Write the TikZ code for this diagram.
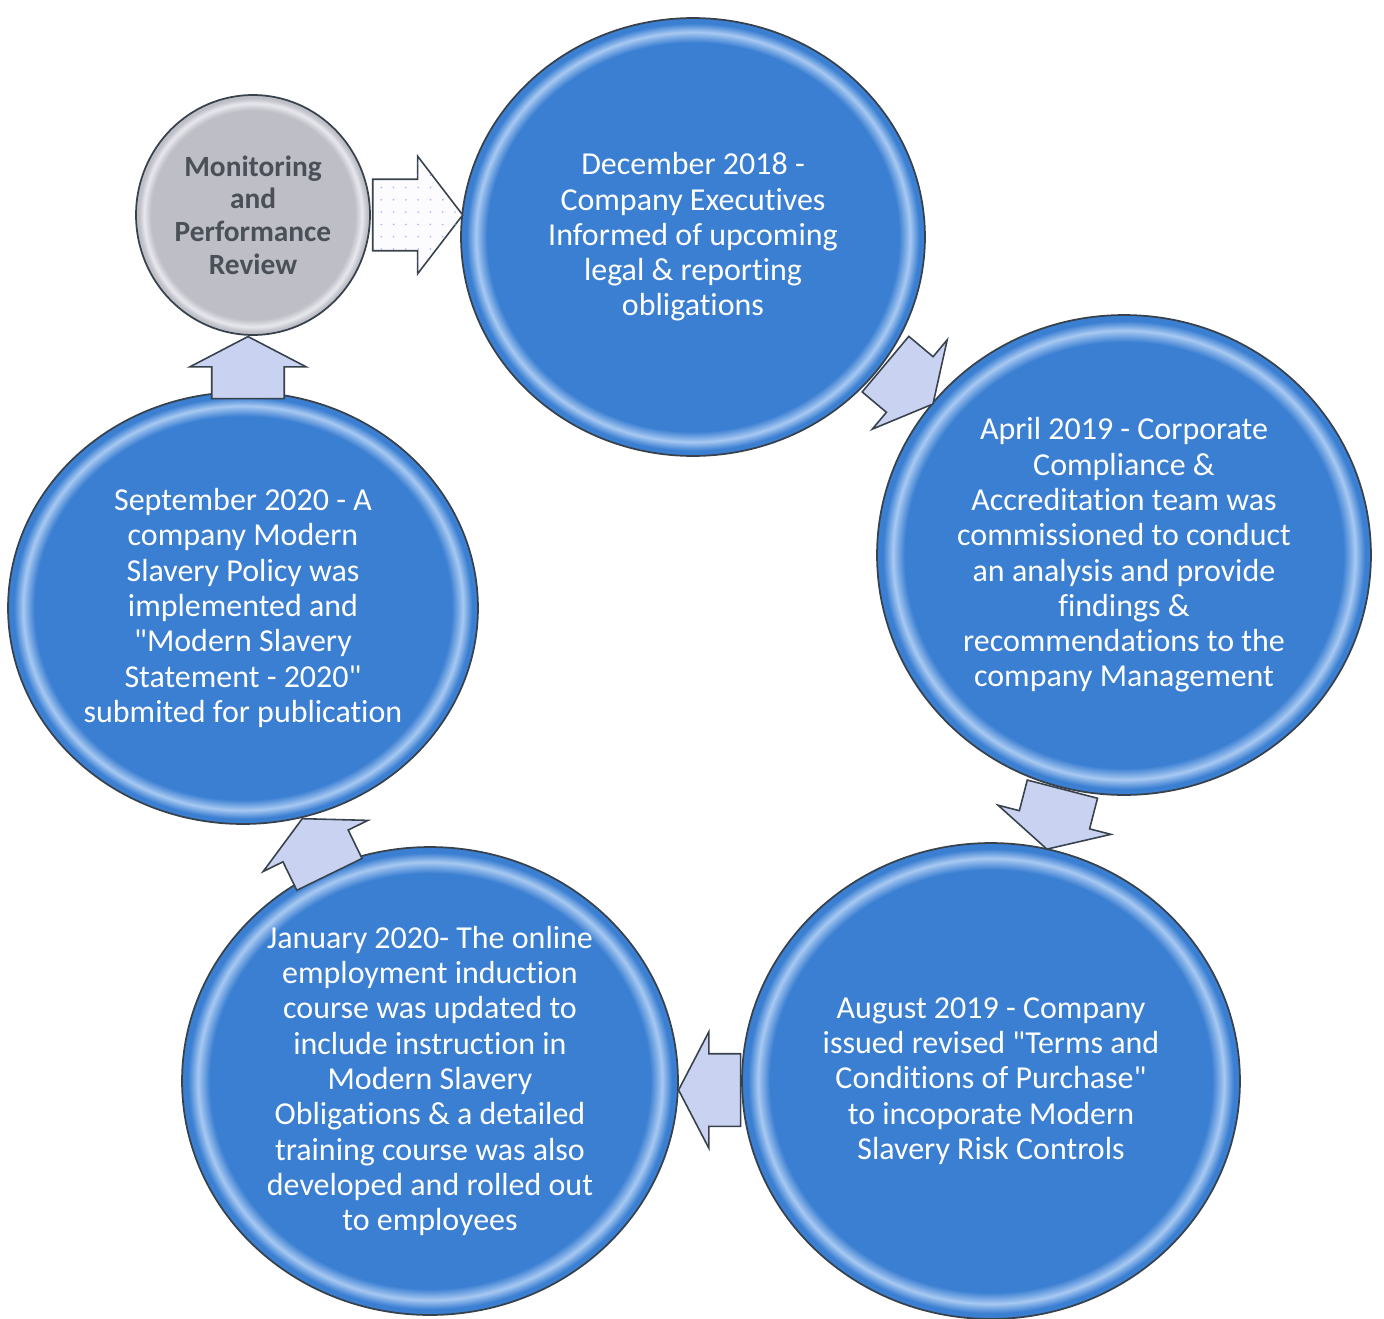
\documentclass[tikz,border=0pt]{standalone}
\usepackage{fontspec}
\setmainfont{Carlito}[Ligatures={TeXOff,NoCommon}]
\usetikzlibrary{shapes.geometric,shapes.arrows,patterns.meta}

\definecolor{stageblue}{HTML}{3B7FD2}
\definecolor{stagerim}{HTML}{A8C9F2}
\definecolor{reviewgray}{HTML}{BDBEC6}
\definecolor{reviewrim}{HTML}{E8E8EE}
\definecolor{edgegray}{HTML}{38424C}
\definecolor{arrowfill}{HTML}{C9D3F1}
\definecolor{reviewtext}{HTML}{4A5057}

%% bevelled rim on the round stages
\pgfdeclareradialshading{stageshade}{\pgfpoint{0bp}{0bp}}{%
  color(0bp)=(stageblue); color(22.2bp)=(stageblue); color(23.4bp)=(stagerim);
  color(24.4bp)=(stageblue); color(50bp)=(stageblue)}
\pgfdeclareradialshading{reviewshade}{\pgfpoint{0bp}{0bp}}{%
  color(0bp)=(reviewgray); color(21.8bp)=(reviewgray); color(23.3bp)=(reviewrim);
  color(24.4bp)=(reviewgray); color(50bp)=(reviewgray)}

\tikzset{
  stage/.style={ellipse, draw=edgegray, line width=1pt, shade, shading=stageshade,
    text=white, align=center, inner sep=0pt,
    font=\fontsize{18.2}{20.1}\selectfont},
  review/.style={ellipse, draw=edgegray, line width=1pt, shade, shading=reviewshade,
    text=reviewtext, align=center, inner sep=0pt,
    font=\fontsize{16.7}{18.6}\selectfont\bfseries},
  blockarrow/.style={single arrow, draw=edgegray, line width=0.9pt, fill=arrowfill,
    inner xsep=0pt, inner ysep=0.71cm, minimum height=1.24cm,
    single arrow head extend=0.44cm, single arrow tip angle=125},
  startarrow/.style={blockarrow, fill=white!94!arrowfill, inner ysep=0.7cm,
    minimum height=1.8cm, single arrow head extend=0.46cm, single arrow tip angle=105,
    postaction={pattern={Dots[radius=0.5pt,distance=7pt]}, pattern color=blue!35}}
}

\begin{document}
\begin{tikzpicture}[x=0.02cm, y=-0.02cm]
  \useasboundingbox (0,0) rectangle (1384,1319);

  %% ---- stages ----
  \node[review, minimum width=4.68cm, minimum height=4.8cm] (review) at (253,215)
    {Monitoring\\and\\Performance\\Review};
  \node[stage, minimum width=9.28cm, minimum height=8.76cm] (dec18) at (693,237)
    {December 2018 -\\Company Executives\\Informed of upcoming\\legal \& reporting\\obligations};
  \node[stage, minimum width=9.88cm, minimum height=9.6cm] (apr19) at (1124,555)
    {April 2019 - Corporate\\Compliance \&\\Accreditation team was\\commissioned to conduct\\an analysis and provide\\findings \&\\recommendations to the\\company Management};
  \node[stage, minimum width=9.96cm, minimum height=9.52cm] (aug19) at (991,1081)
    {August 2019 - Company\\issued revised "Terms and\\Conditions of Purchase"\\to incoporate Modern\\Slavery Risk Controls};
  \node[stage, minimum width=9.92cm, minimum height=9.36cm] (jan20) at (430,1081)
    {January 2020- The online\\employment induction\\course was updated to\\include instruction in\\Modern Slavery\\Obligations \& a detailed\\training course was also\\developed and rolled out\\to employees};
  \node[stage, minimum width=9.4cm, minimum height=8.64cm] (sep20) at (243,608)
    {September 2020 - A\\company Modern\\Slavery Policy was\\implemented and\\"Modern Slavery\\Statement - 2020"\\submited for publication};

  %% ---- block arrows between stages ----
  \node[startarrow] (review-dec18) at (404,215) {};
  \node[blockarrow, rotate=-40] (dec18-apr19) at (902,378) {};
  \node[blockarrow, rotate=-104.5] (apr19-aug19) at (1057,810) {};
  \node[blockarrow, rotate=180] (aug19-jan20) at (719,1090) {};
  \node[blockarrow, rotate=116] (jan20-sep20) at (320,855) {};
  \node[blockarrow, rotate=90] (sep20-review) at (248,377) {};
\end{tikzpicture}
\end{document}
